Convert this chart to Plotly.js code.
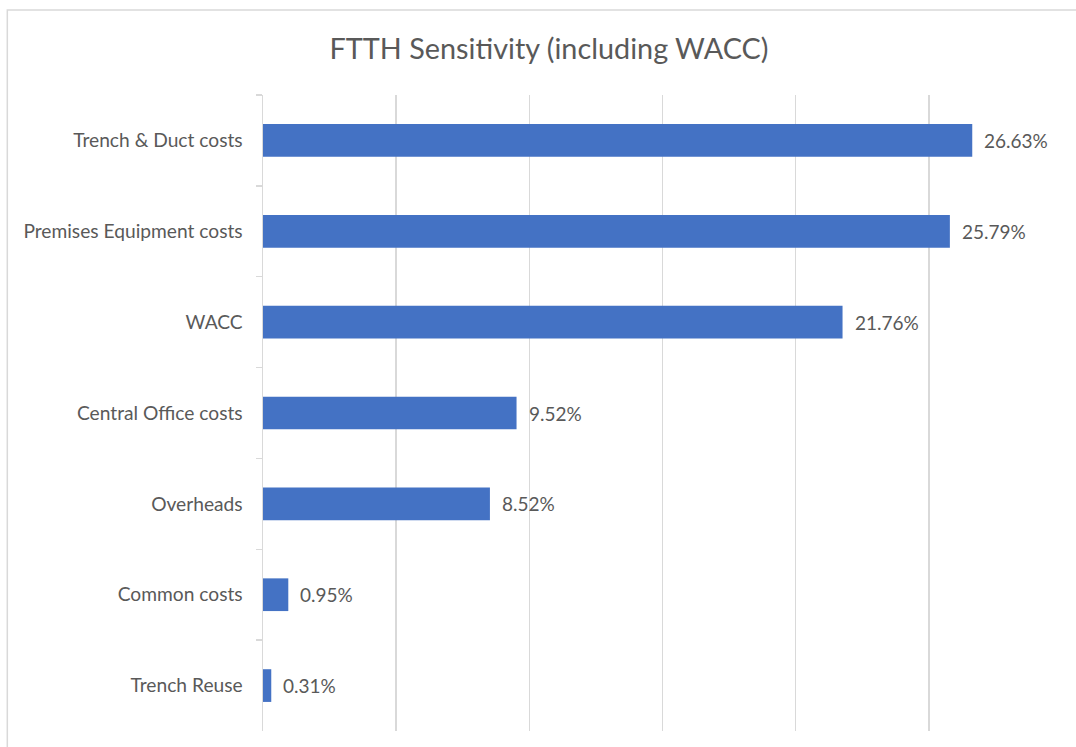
<!DOCTYPE html>
<html><head><meta charset="utf-8">
<script src="https://cdn.plot.ly/plotly-3.0.1.min.js"></script>
<style>html,body{margin:0;padding:0;background:#fff}#chart{width:1076px;height:747px}</style>
</head><body><div id="chart"></div>
<script>
const categories = ["Trench & Duct costs","Premises Equipment costs","WACC","Central Office costs","Overheads","Common costs","Trench Reuse"];
const values = [26.63, 25.79, 21.76, 9.52, 8.52, 0.95, 0.31];
const xTicks = [0, 5, 10, 15, 20, 25, 30];

const font = 'Lato, sans-serif';
const trace = {
  type: 'bar', orientation: 'h',
  y: categories, x: values,
  marker: {color: '#4472C4', line: {color: '#4472C4', width: 0}},
  width: 0.36,
  hoverinfo: 'none'
};
const annotations = values.map((v, i) => ({
  x: v, y: categories[i], xref: 'x', yref: 'y',
  text: v.toFixed(2) + '%', showarrow: false,
  xanchor: 'left', yanchor: 'middle', xshift: 10,
  font: {family: font, size: 19, color: '#595959'}
}));
const layout = {
  width: 1076, height: 747,
  margin: {l: 263, r: 14, t: 95, b: 16},
  paper_bgcolor: '#fff', plot_bgcolor: '#fff',
  showlegend: false,
  title: {text: 'FTTH Sensitivity (including WACC)', x: 549/1076, xanchor: 'center', xref: 'container', y: 1 - 49/747, yanchor: 'middle', yref: 'container',
          font: {family: font, size: 28.8, color: '#595959'}},
  xaxis: {range: [0, 30], tickvals: xTicks, showticklabels: false, showgrid: true, gridcolor: '#d9d9d9', gridwidth: 1.5, zeroline: false, showline: false, ticks: '', fixedrange: true},
  yaxis: {autorange: 'reversed', type: 'category', tickson: 'boundaries', ticks: 'outside', ticklen: 6, tickcolor: '#d9d9d9', tickwidth: 1.5,
          showline: true, linecolor: '#d9d9d9', linewidth: 1.5, showgrid: false, zeroline: false, ticklabelstandoff: 15,
          tickfont: {family: font, size: 19.2, color: '#595959'}},
  annotations: annotations,
  shapes: [{type: 'rect', xref: 'paper', yref: 'paper', x0: -256/800, x1: 1.2, y0: -0.2, y1: 1 + 85/636, line: {color: '#d9d9d9', width: 1.5}, fillcolor: 'rgba(0,0,0,0)', layer: 'below'}]
};
Plotly.newPlot('chart', [trace], layout, {displayModeBar: false, staticPlot: true});
</script></body></html>
